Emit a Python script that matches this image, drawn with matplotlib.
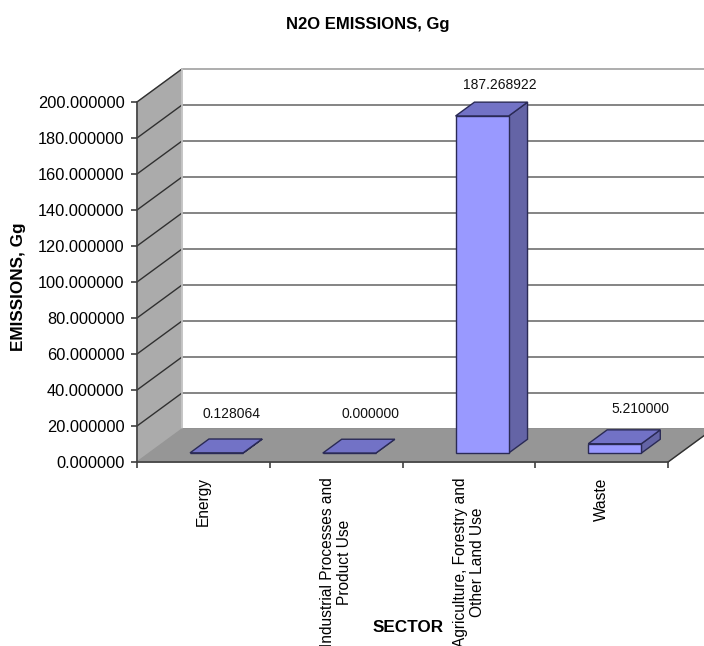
import matplotlib
matplotlib.use("Agg")
import matplotlib.pyplot as plt
from matplotlib.patches import Polygon

plt.rcParams["font.family"] = ["Liberation Sans", "DejaVu Sans"]

# ======== Data ========
SECTORS = ["Energy", "Industrial Processes and\nProduct Use",
           "Agriculture, Forestry and\nOther Land Use", "Waste"]
EMISSIONS = [0.128064, 0.000000, 187.268922, 5.210000]
Y_TICKS = [0, 20, 40, 60, 80, 100, 120, 140, 160, 180, 200]

# ======== Fake 3D config ========
W, H = 704, 646
DEPTH_X = 45 / 132.75   # depth of the box in category units
DEPTH_Y = 33 / 1.8      # depth of the box in value units
BAR_W = 0.4
BAR_SHIFT = 0.008
D0, D1 = 0.27, 0.69     # bar front/back as fraction of depth
LABEL_DX = [-4, 2, -1, 7]
LABEL_DY = [25, 25, 17, 21]

FRONT = "#9999FF"
TOP = "#7272C6"
SIDE = "#6464A6"
EDGE = "#2A2A55"
WALL = "#ABABAB"
FLOOR = "#969696"
GRID = "#707070"


def proj(x, y, d):
    return (x + d * DEPTH_X, y + d * DEPTH_Y)


def face(ax, pts, color, edge=None, z=2, lw=1.0):
    ax.add_patch(Polygon(pts, closed=True, facecolor=color,
                         edgecolor=edge if edge else color, linewidth=lw,
                         zorder=z, clip_on=False))


fig = plt.figure(figsize=(W / 100, H / 100), dpi=100)
ax = fig.add_axes([137 / W, 1 - 462 / H, (668 - 137) / W, (462 - 102) / H])
ax.set_xlim(0, len(SECTORS))
ax.set_ylim(0, Y_TICKS[-1])
ax.patch.set_visible(False)
for s in ["top", "right"]:
    ax.spines[s].set_visible(False)
for s in ["left", "bottom"]:
    ax.spines[s].set_color("#404040")
    ax.spines[s].set_linewidth(1.2)
    ax.spines[s].set_zorder(5)

n = len(SECTORS)
ymax = Y_TICKS[-1]

# walls and floor
face(ax, [proj(0, 0, 0), proj(0, 0, 1), proj(0, ymax, 1), proj(0, ymax, 0)], WALL, z=1)
face(ax, [proj(0, 0, 0), proj(n, 0, 0), proj(n, 0, 1), proj(0, 0, 1)], FLOOR, z=1.5)

# gridlines on the side wall and back wall
for i, t in enumerate(Y_TICKS):
    if t > 0:
        xs, ys = zip(proj(0, t, 0), proj(0, t, 1))
        ax.plot(xs, ys, color="#303030", lw=1.0, zorder=1.2, clip_on=False)
    xs, ys = zip(proj(0, t, 1), proj(n, t, 1))
    ax.plot(xs, ys, color="#A0A0A0" if t == ymax else GRID, lw=1.2, zorder=1.2, clip_on=False)

xs, ys = zip(proj(0, 0, 1), proj(0, ymax, 1))
ax.plot(xs, ys, color="#C8C8C8", lw=1.2, zorder=1.2, clip_on=False)
xs, ys = zip(proj(n, 0, 0), proj(n, 0, 1))
ax.plot(xs, ys, color="#303030", lw=1.0, zorder=1.6, clip_on=False)

# bars
for i, v in enumerate(EMISSIONS):
    x0 = i + 0.5 - BAR_W / 2 + BAR_SHIFT
    x1 = x0 + BAR_W
    a = proj(x0, 0, D0)
    b = proj(x1, 0, D0)
    c = proj(x1, v, D0)
    d = proj(x0, v, D0)
    e = proj(x1, 0, D1)
    f = proj(x1, v, D1)
    g = proj(x0, v, D1)
    face(ax, [b, e, f, c], SIDE, EDGE, z=3)
    face(ax, [d, c, f, g], TOP, EDGE, z=3)
    face(ax, [a, b, c, d], FRONT, EDGE, z=3)
    ax.annotate(f"{v:.6f}", xy=((g[0] + f[0]) / 2, f[1]),
                xytext=(LABEL_DX[i] * 0.72, LABEL_DY[i] * 0.72),
                textcoords="offset points", ha="center", va="center",
                fontsize=10, color="#111111", annotation_clip=False, zorder=6)

# axes
ax.set_yticks(Y_TICKS)
ax.set_yticklabels([f"{t:.6f}" for t in Y_TICKS], fontsize=11.8)
ax.tick_params(axis="y", length=4, width=1.2, color="#404040", pad=5)
ax.set_xticks(range(n + 1))
ax.set_xticklabels([])
ax.tick_params(axis="x", which="major", length=4, width=1.2, color="#404040")
ax.set_xticks([i + 0.5 for i in range(n)], minor=True)
ax.set_xticklabels(SECTORS, minor=True, rotation=90, fontsize=11.2,
                   ha="center", va="top", linespacing=1.2)
ax.tick_params(axis="x", which="minor", length=0, pad=11)

fig.text(368 / W, 1 - 24 / H, "N2O EMISSIONS, Gg", ha="center", va="center",
         fontsize=12, fontweight="bold")
fig.text(19 / W, 1 - 287 / H, "EMISSIONS, Gg", rotation=90, ha="center", va="center",
         fontsize=12.3, fontweight="bold")
fig.text(408 / W, 1 - 628 / H, "SECTOR", ha="center", va="center",
         fontsize=12.3, fontweight="bold")

fig.savefig("out.png", dpi=100)
